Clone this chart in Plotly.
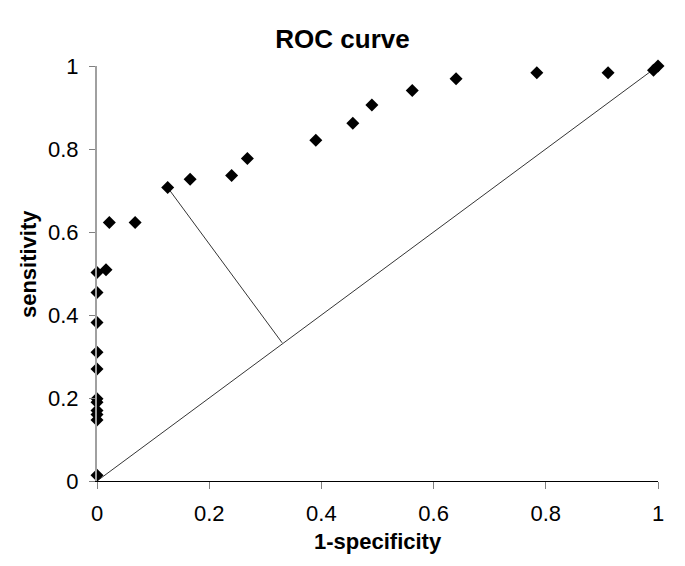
import plotly.graph_objects as go

# ROC points (1-specificity, sensitivity)
fpr = [0, 0, 0, 0, 0, 0, 0, 0, 0, 0, 0, 0.016, 0.022, 0.068, 0.126, 0.166,
       0.240, 0.268, 0.390, 0.456, 0.490, 0.562, 0.640, 0.784, 0.911, 0.992, 1.0]
tpr = [0.014, 0.147, 0.160, 0.170, 0.190, 0.198, 0.270, 0.310, 0.382, 0.454, 0.5025, 0.509, 0.623, 0.623, 0.707, 0.727,
       0.736, 0.777, 0.821, 0.862, 0.906, 0.941, 0.969, 0.984, 0.984, 0.990, 1.0]

diag_x = [0, 1]
diag_y = [0, 1]

# distance line from best point to the chance diagonal
dist_x = [0.126, 0.330]
dist_y = [0.707, 0.333]

tick_vals = [0, 0.2, 0.4, 0.6, 0.8, 1]
tick_text = ["0", "0.2", "0.4", "0.6", "0.8", "1"]

FONT = "Liberation Sans, Arial, sans-serif"

fig = go.Figure()
fig.add_trace(go.Scatter(x=diag_x, y=diag_y, mode="lines",
                         line=dict(color="black", width=0.8), showlegend=False, hoverinfo="skip"))
fig.add_trace(go.Scatter(x=dist_x, y=dist_y, mode="lines",
                         line=dict(color="black", width=0.8), showlegend=False, hoverinfo="skip"))
fig.add_trace(go.Scatter(x=fpr, y=tpr, mode="markers",
                         marker=dict(symbol="diamond", size=10, color="black"),
                         cliponaxis=False, showlegend=False))

fig.update_layout(
    width=685, height=566,
    paper_bgcolor="white", plot_bgcolor="white",
    margin=dict(l=97, r=27, t=66, b=85),
    font=dict(family=FONT, color="black", size=22),
    title=dict(text="<b>ROC curve</b>", x=0.5, xref="container", xanchor="center",
               y=0.932, yref="container", yanchor="middle",
               font=dict(family=FONT, size=26, color="black")),
    annotations=[
        dict(text="<b>1-specificity</b>", xref="paper", yref="paper", x=0.5, y=-0.145,
             xanchor="center", yanchor="middle", showarrow=False,
             font=dict(family=FONT, size=22, color="black")),
        dict(text="<b>sensitivity</b>", xref="paper", yref="paper", x=-0.121, y=0.523,
             xanchor="center", yanchor="middle", showarrow=False, textangle=-90,
             font=dict(family=FONT, size=22, color="black")),
    ],
)

fig.update_xaxes(range=[0, 1], tickvals=tick_vals, ticktext=tick_text, automargin=False,
                 showgrid=False, zeroline=False, showline=True, linecolor="black", linewidth=1,
                 ticks="outside", ticklen=7, tickcolor="#808080", tickwidth=1,
                 ticklabelstandoff=6,
                 tickfont=dict(family=FONT, size=22, color="black"))
fig.update_yaxes(range=[0, 1], tickvals=tick_vals, ticktext=tick_text, automargin=False,
                 showgrid=False, zeroline=False, showline=True, linecolor="#a0a0a0", linewidth=2,
                 ticks="outside", ticklen=6, tickcolor="#808080", tickwidth=1,
                 ticklabelstandoff=6,
                 tickfont=dict(family=FONT, size=22, color="black"))

fig.write_html("out.html", config={"displayModeBar": False},
               post_script="document.body.style.margin='0';document.body.style.padding='0';")
